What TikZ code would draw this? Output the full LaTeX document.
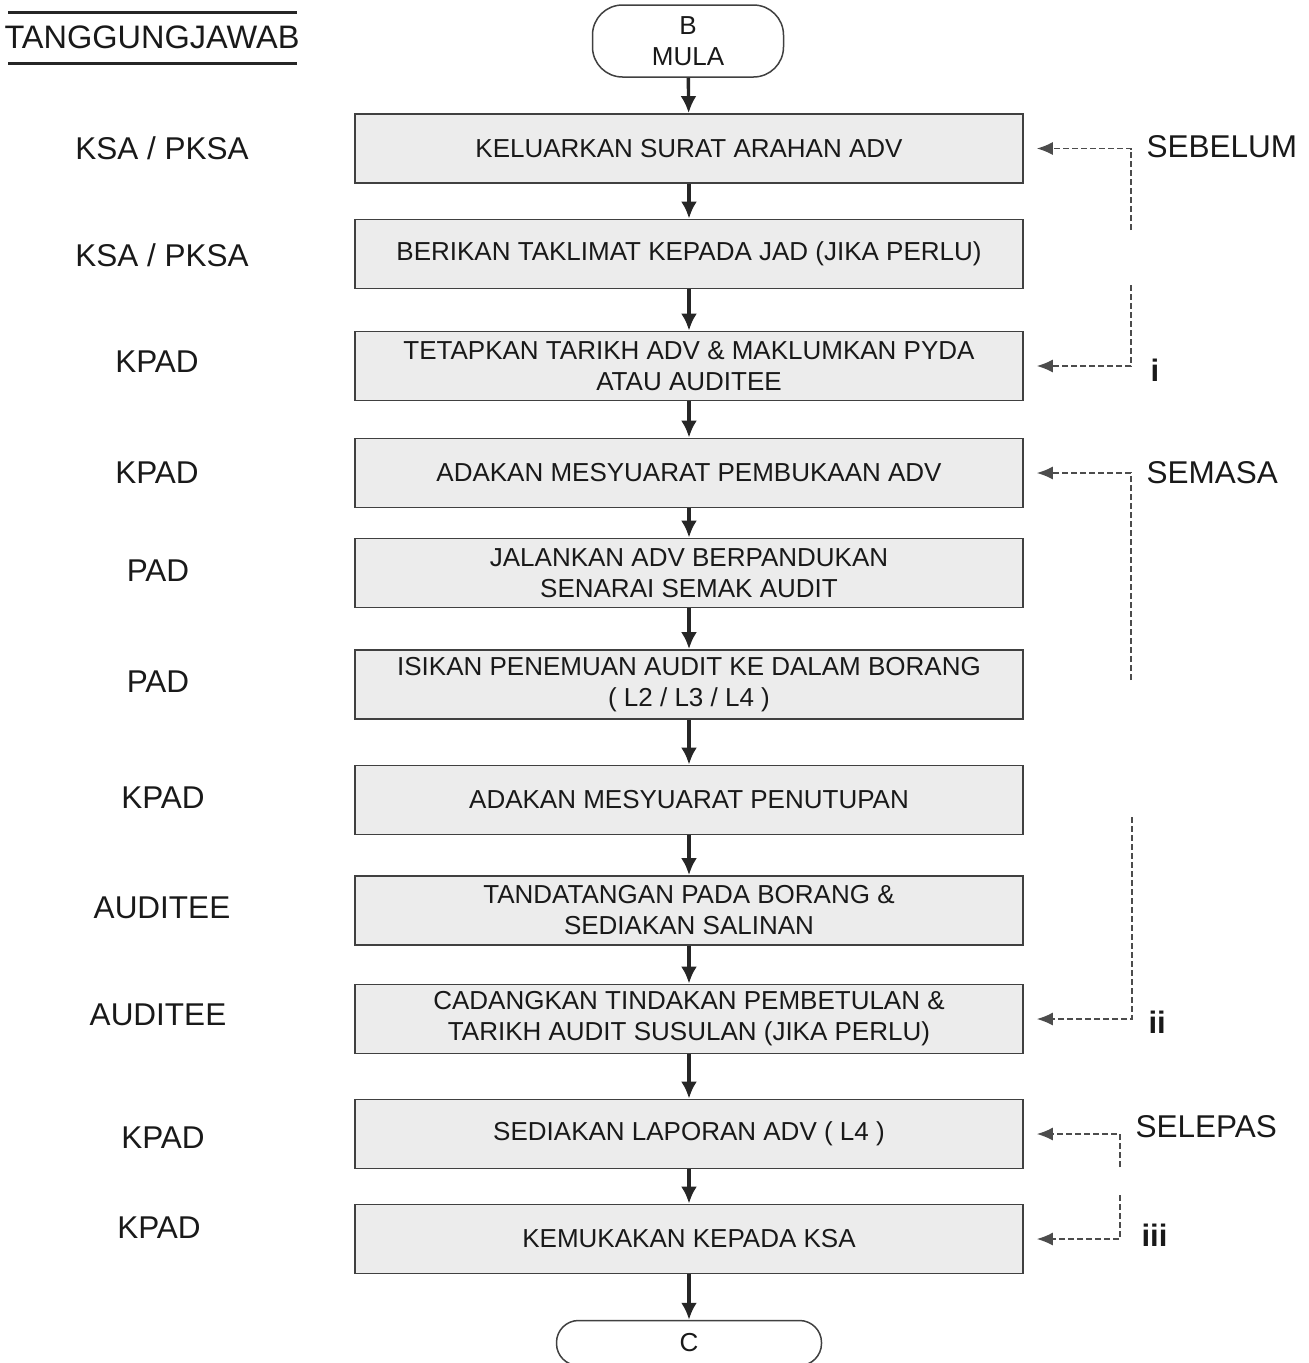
\documentclass[tikz,border=0pt]{standalone}
\usepackage{fontspec}
\setmainfont{Liberation Sans}
\usepackage{tikz}
\usetikzlibrary{arrows.meta,positioning}

\tikzset{
  stepbox/.style={draw=black!75, line width=1.8pt, fill=gray!15, text=black!90,
    minimum width=668pt, minimum height=69pt, align=center,
    font=\fontsize{26}{31}\selectfont},
  termbox/.style={draw=black!75, line width=1.5pt, fill=white, text=black!90,
    rounded corners=30pt, align=center, font=\fontsize{26}{31}\selectfont},
  who/.style={text=black!90, font=\fontsize{31.5}{36}\selectfont},
  phase/.style={text=black!90, font=\fontsize{31.5}{36}\selectfont, anchor=west},
  flow/.style={draw=black!85, line width=3.4pt, -{Latex[length=17pt,width=16pt]}},
  link/.style={draw=black!70, line width=1.3pt, dash pattern=on 6pt off 3pt,
    -{Latex[length=16pt,width=13pt]}, shorten >=13pt}
}

\begin{document}
\begin{tikzpicture}[x=1pt,y=-1pt]
    \clip (0,0) rectangle (1309,1363);

    % Terminals
    \node[termbox, minimum width=191pt, minimum height=72pt] (start) at (688,41) {B\\MULA};
    \node[termbox, rounded corners=22pt, minimum width=265pt, minimum height=45pt] (end) at (689,1343) {C};

    % Process steps
    \node[stepbox] (k1) at (689,148.5) {KELUARKAN SURAT ARAHAN ADV};
    \node[stepbox] (k2) at (689,254) {BERIKAN TAKLIMAT KEPADA JAD (JIKA PERLU)};
    \node[stepbox] (k3) at (689,366) {TETAPKAN TARIKH ADV \& MAKLUMKAN PYDA\\ATAU AUDITEE};
    \node[stepbox] (k4) at (689,473) {ADAKAN MESYUARAT PEMBUKAAN ADV};
    \node[stepbox] (k5) at (689,573) {JALANKAN ADV BERPANDUKAN\\SENARAI SEMAK AUDIT};
    \node[stepbox] (k6) at (689,684.5) {ISIKAN PENEMUAN AUDIT KE DALAM BORANG\\( L2 / L3 / L4 )};
    \node[stepbox] (k7) at (689,800) {ADAKAN MESYUARAT PENUTUPAN};
    \node[stepbox] (k8) at (689,910.5) {TANDATANGAN PADA BORANG \&\\SEDIAKAN SALINAN};
    \node[stepbox] (k9) at (689,1019) {CADANGKAN TINDAKAN PEMBETULAN \&\\TARIKH AUDIT SUSULAN (JIKA PERLU)};
    \node[stepbox] (k10) at (689,1134) {SEDIAKAN LAPORAN ADV ( L4 )};
    \node[stepbox] (k11) at (689,1239) {KEMUKAKAN KEPADA KSA};

    % Main flow
    \draw[flow] (start) -- (k1);
    \draw[flow] (k1) -- (k2);
    \draw[flow] (k2) -- (k3);
    \draw[flow] (k3) -- (k4);
    \draw[flow] (k4) -- (k5);
    \draw[flow] (k5) -- (k6);
    \draw[flow] (k6) -- (k7);
    \draw[flow] (k7) -- (k8);
    \draw[flow] (k8) -- (k9);
    \draw[flow] (k9) -- (k10);
    \draw[flow] (k10) -- (k11);
    \draw[flow] (k11) -- (end);

    % Responsibility column
    \node[who, font=\fontsize{32.5}{36}\selectfont] (tj) at (152,37) {TANGGUNGJAWAB};
    \draw[black!85, line width=3pt] (8,12) -- (297,12);
    \draw[black!85, line width=3pt] (8,63) -- (297,63);
    \node[who] (r1) at (162,148) {KSA / PKSA};
    \node[who] (r2) at (162,255) {KSA / PKSA};
    \node[who] (r3) at (157,362) {KPAD};
    \node[who] (r4) at (157,473) {KPAD};
    \node[who] (r5) at (158,571) {PAD};
    \node[who] (r6) at (158,682) {PAD};
    \node[who] (r7) at (163,798) {KPAD};
    \node[who] (r8) at (162,908) {AUDITEE};
    \node[who] (r9) at (158,1015) {AUDITEE};
    \node[who] (r10) at (163,1138) {KPAD};
    \node[who] (r11) at (159,1228) {KPAD};

    % Stage labels
    \node[phase] (sebelum) at (1143,147) {SEBELUM};
    \node[phase, font=\fontsize{31}{36}\bfseries] (pi) at (1147,370) {i};
    \node[phase] (semasa) at (1143,473) {SEMASA};
    \node[phase, font=\fontsize{31}{36}\bfseries] (pii) at (1145,1022) {ii};
    \node[phase] (selepas) at (1132,1127) {SELEPAS};
    \node[phase, font=\fontsize{31}{36}\bfseries] (piii) at (1138,1235) {iii};

    % Stage brackets
    \coordinate (ja) at (1131,230);
    \coordinate (jb) at (1131,285);
    \coordinate (jc) at (1131,680);
    \coordinate (jd) at (1132,817);
    \coordinate (je) at (1120,1167);
    \coordinate (jf) at (1120,1195);
    \draw[link] (ja) |- (k1.east);
    \draw[link] (jb) |- (k3.east);
    \draw[link] (jc) |- (k4.east);
    \draw[link] (jd) |- (k9.east);
    \draw[link] (je) |- (k10.east);
    \draw[link] (jf) |- (k11.east);
\end{tikzpicture}
\end{document}
